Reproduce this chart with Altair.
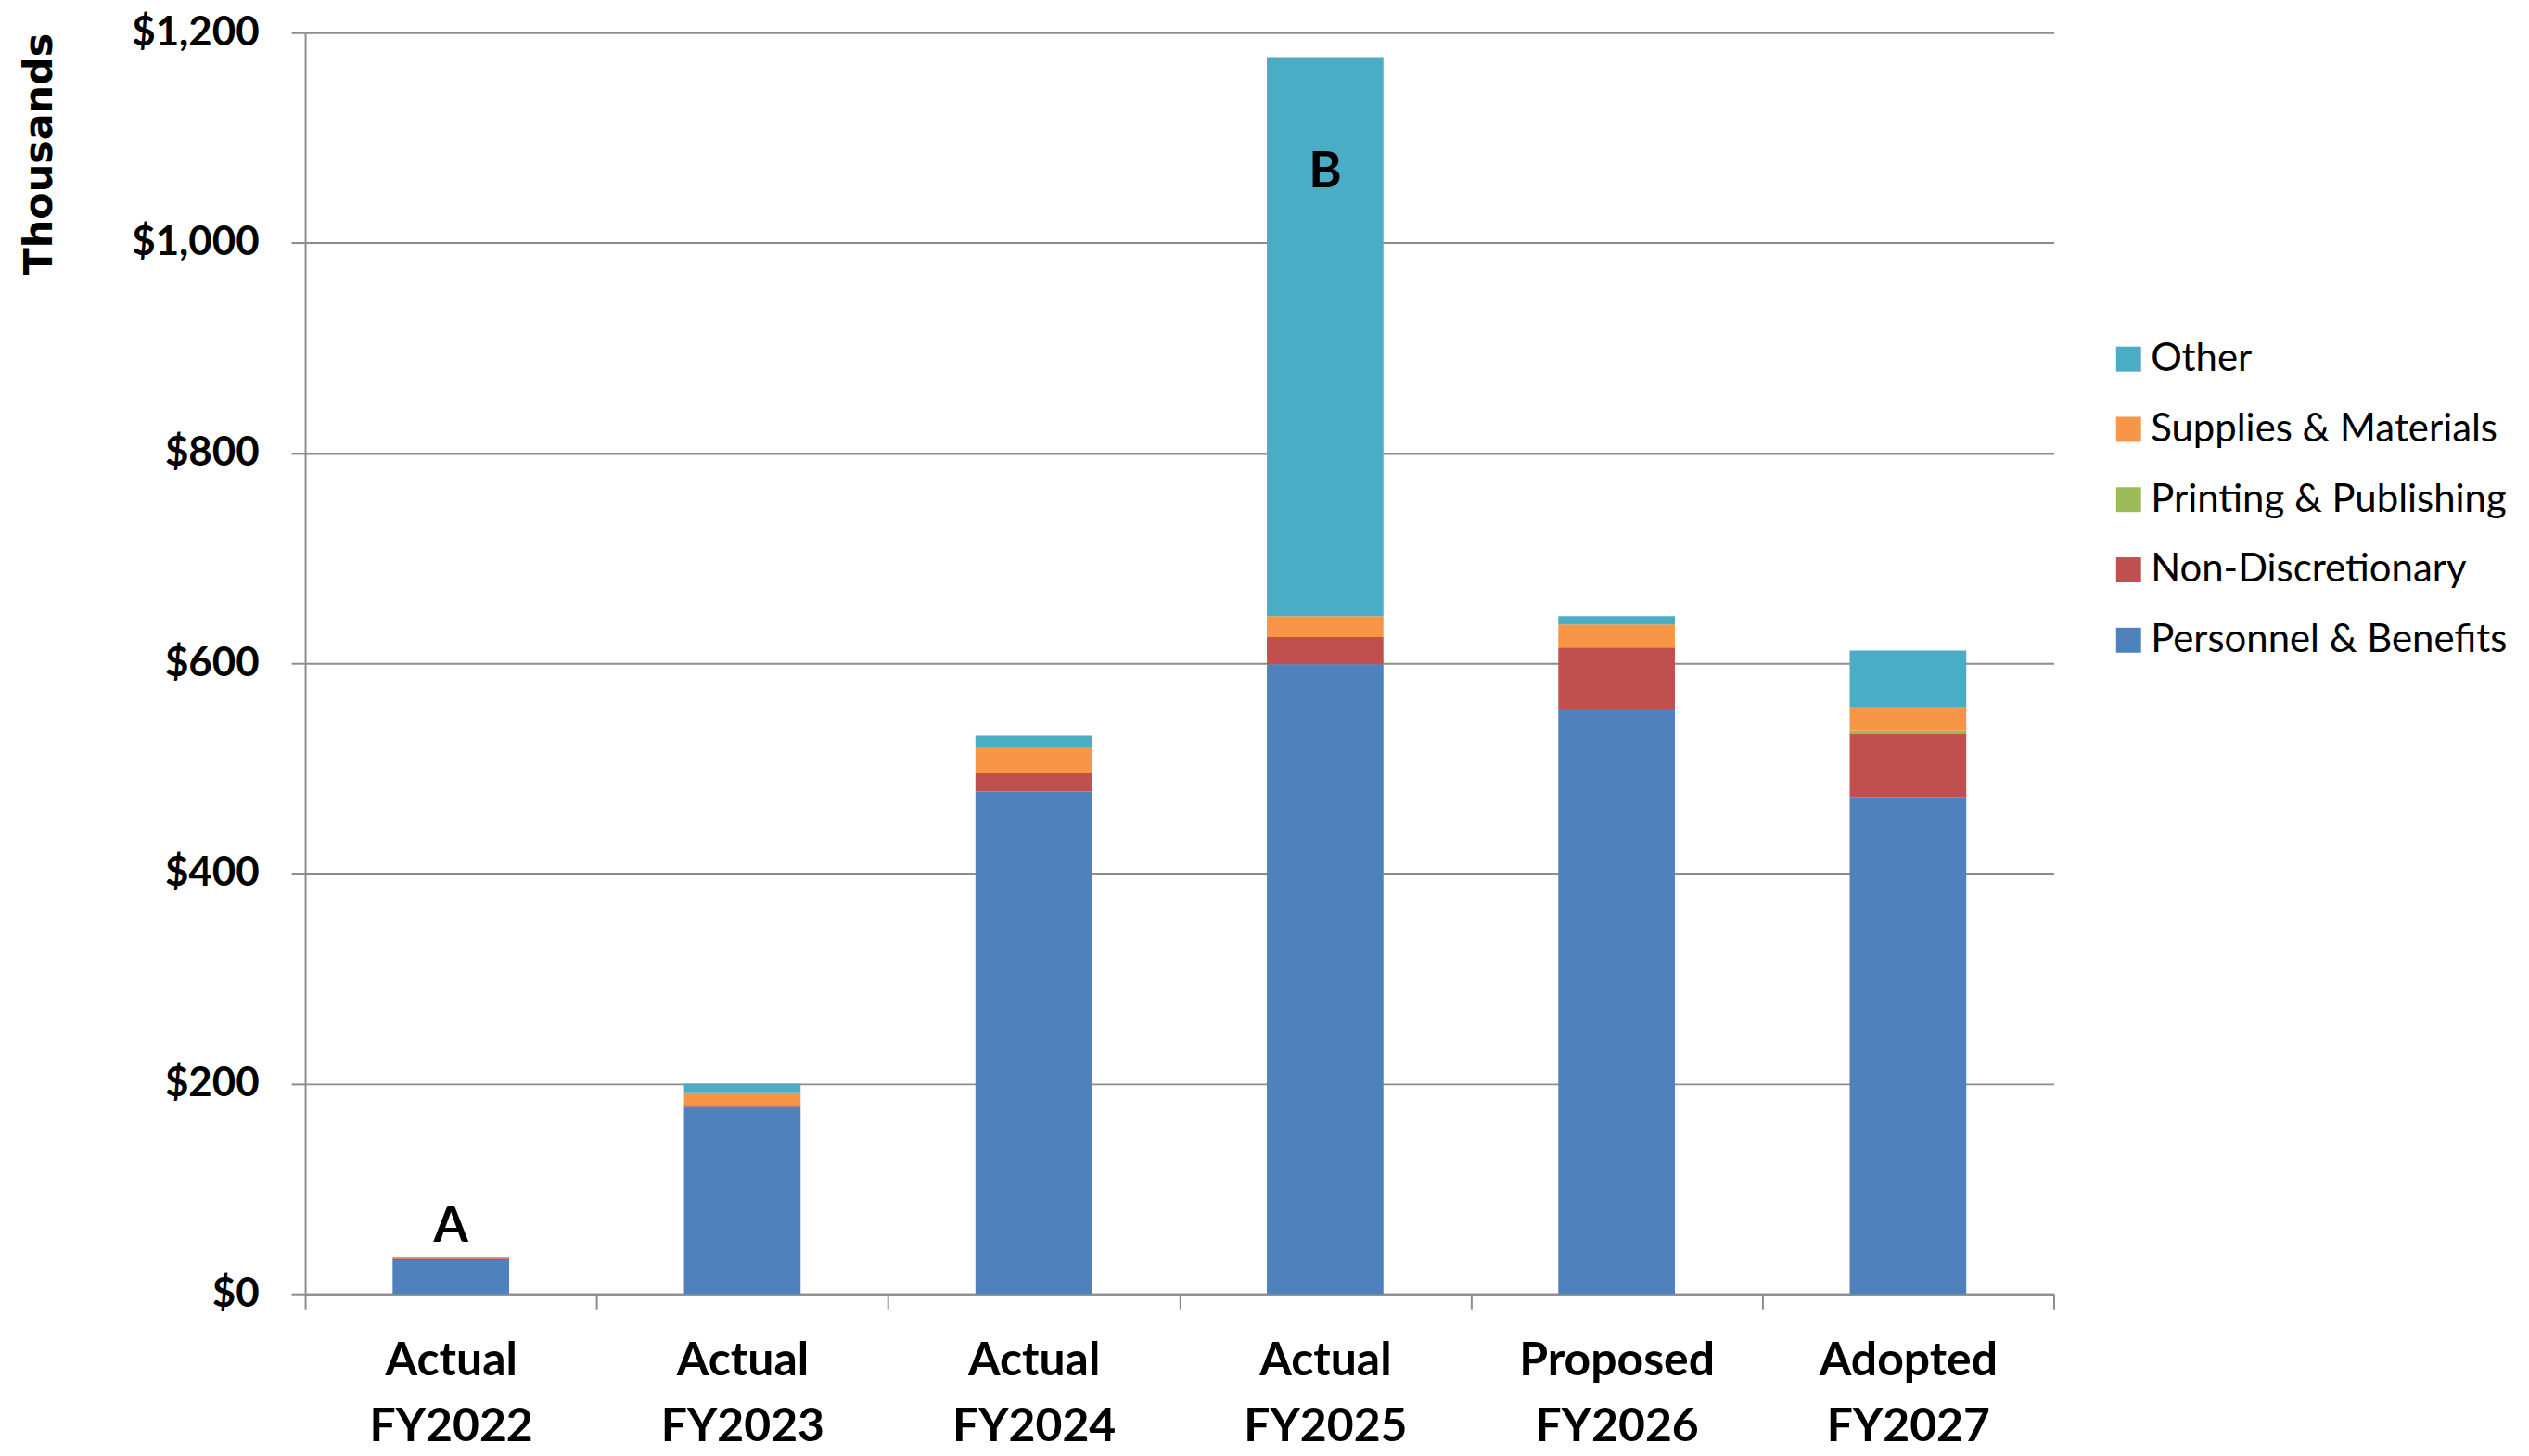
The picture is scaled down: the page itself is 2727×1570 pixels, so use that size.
import altair as alt
import pandas as pd

# ---- data (thousands of $) ----
categories = ["Actual FY2022", "Actual FY2023", "Actual FY2024",
              "Actual FY2025", "Proposed FY2026", "Adopted FY2027"]
personnel = [32, 178, 478, 599, 557, 473]
non_discretionary = [1.5, 1, 18, 26, 58, 60]
printing = [0, 0, 0, 0, 0, 3]
supplies = [2, 12, 24, 20, 22, 22]
other = [0, 9, 11, 531, 8, 54]

series_names = ["Personnel & Benefits", "Non-Discretionary",
                "Printing & Publishing", "Supplies & Materials", "Other"]
series_colors = ["#4F81BD", "#C0504D", "#9BBB59", "#F79646", "#4BACC6"]
series_values = [personnel, non_discretionary, printing, supplies, other]

y_ticks = [0, 200, 400, 600, 800, 1000, 1200]

annot_text = ["A", "B"]
annot_cat = ["Actual FY2022", "Actual FY2025"]
annot_val = [50, 1053]

# ---- build tables ----
rows = []
for si, (name, vals) in enumerate(zip(series_names, series_values)):
    for c, v in zip(categories, vals):
        rows.append({"cat": c, "series": name, "value": v, "stack": si})
df = pd.DataFrame(rows)
ann = pd.DataFrame({"cat": annot_cat, "val": annot_val, "txt": annot_text})

legend_domain = list(reversed(series_names))
legend_range = list(reversed(series_colors))

GRAY = "#8c8c8c"

x_enc = alt.X("cat:N", sort=categories, title=None,
              scale=alt.Scale(paddingInner=0, paddingOuter=0),
              axis=alt.Axis(labelExpr="split(datum.label, ' ')",
                            labelAngle=0, labelFont="Lato", labelFontWeight="bold",
                            labelFontSize=50, labelLineHeight=71, labelColor="black",
                            labelPadding=31, labelLimit=500, tickBand="extent",
                            tickSize=17, tickColor=GRAY, tickWidth=2,
                            domainColor=GRAY, domainWidth=2, grid=False))

y_scale = alt.Scale(domain=[0, 1200], nice=False)

bars = alt.Chart(df).mark_bar(width=alt.RelativeBandSize(0.4)).encode(
    x=x_enc,
    y=alt.Y("sum(value):Q", scale=y_scale, stack="zero",
            axis=alt.Axis(values=y_ticks, format="$,d", labelFont="Lato",
                          labelFontWeight="bold", labelFontSize=44,
                          labelColor="black", labelPadding=35, tickSize=15,
                          tickColor=GRAY, tickWidth=2, gridColor=GRAY,
                          gridWidth=2, domainColor=GRAY, domainWidth=2,
                          title="Thousands", titleFont="DejaVu Sans",
                          titleFontWeight="bold", titleFontSize=43,
                          titleColor="black", titleAngle=270,
                          titleAlign="right", titleBaseline="middle",
                          titleX=-287, titleY=0)),
    color=alt.Color("series:N", scale=alt.Scale(domain=legend_domain, range=legend_range),
                    legend=alt.Legend(title=None, orient="none", legendX=1951,
                                      legendY=332, padding=0, symbolType="square",
                                      symbolSize=729, symbolStrokeWidth=0,
                                      labelFont="Lato", labelFontSize=42,
                                      labelColor="black", labelOffset=3,
                                      rowPadding=34, labelLimit=600)),
    order=alt.Order("stack:Q", sort="ascending"),
)

texts = alt.Chart(ann).mark_text(font="Lato", fontWeight="bold", fontSize=54,
                                 baseline="alphabetic", color="black").encode(
    x=alt.X("cat:N", sort=categories),
    y=alt.Y("val:Q", scale=y_scale),
    text="txt:N",
)

chart = alt.layer(bars, texts).properties(
    width=1891, height=1364,
    autosize=alt.AutoSizeParams(type="none"),
    padding={"left": 322, "top": 25, "right": 506, "bottom": 173},
    background="white",
).configure_view(stroke=None)

chart.save("out.html", embed_options={"renderer": "svg", "actions": False})
